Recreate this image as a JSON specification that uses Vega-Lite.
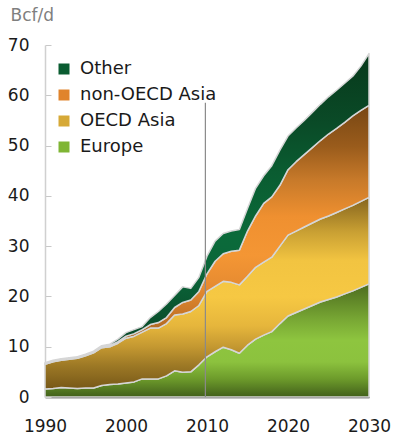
{
  "$schema": "https://vega.github.io/schema/vega-lite/v6.json",
  "width": 324,
  "height": 352,
  "autosize": {"type": "none"},
  "padding": {"left": 45, "top": 45, "right": 27, "bottom": 51},
  "background": "white",
  "config": {"view": {"stroke": null}, "font": "DejaVu Sans"},
  "data": {
    "values": [
      {"year": 1990, "Europe": 1.6, "OECDAsia": 4.9, "nonOECDAsia": 0.1, "Other": 0.2},
      {"year": 1991, "Europe": 1.7, "OECDAsia": 5.3, "nonOECDAsia": 0.1, "Other": 0.2},
      {"year": 1992, "Europe": 1.9, "OECDAsia": 5.4, "nonOECDAsia": 0.1, "Other": 0.2},
      {"year": 1993, "Europe": 1.8, "OECDAsia": 5.7, "nonOECDAsia": 0.1, "Other": 0.2},
      {"year": 1994, "Europe": 1.7, "OECDAsia": 6.0, "nonOECDAsia": 0.1, "Other": 0.2},
      {"year": 1995, "Europe": 1.8, "OECDAsia": 6.4, "nonOECDAsia": 0.1, "Other": 0.2},
      {"year": 1996, "Europe": 1.8, "OECDAsia": 7.0, "nonOECDAsia": 0.1, "Other": 0.2},
      {"year": 1997, "Europe": 2.3, "OECDAsia": 7.5, "nonOECDAsia": 0.1, "Other": 0.3},
      {"year": 1998, "Europe": 2.5, "OECDAsia": 7.5, "nonOECDAsia": 0.2, "Other": 0.3},
      {"year": 1999, "Europe": 2.6, "OECDAsia": 8.1, "nonOECDAsia": 0.3, "Other": 0.5},
      {"year": 2000, "Europe": 2.8, "OECDAsia": 8.9, "nonOECDAsia": 0.4, "Other": 0.7},
      {"year": 2001, "Europe": 3.0, "OECDAsia": 9.1, "nonOECDAsia": 0.5, "Other": 0.8},
      {"year": 2002, "Europe": 3.6, "OECDAsia": 9.3, "nonOECDAsia": 0.5, "Other": 0.6},
      {"year": 2003, "Europe": 3.6, "OECDAsia": 10.1, "nonOECDAsia": 0.7, "Other": 1.4},
      {"year": 2004, "Europe": 3.6, "OECDAsia": 10.1, "nonOECDAsia": 1.1, "Other": 2.2},
      {"year": 2005, "Europe": 4.2, "OECDAsia": 10.4, "nonOECDAsia": 1.2, "Other": 2.7},
      {"year": 2006, "Europe": 5.2, "OECDAsia": 11.1, "nonOECDAsia": 1.5, "Other": 2.4},
      {"year": 2007, "Europe": 4.9, "OECDAsia": 11.6, "nonOECDAsia": 2.3, "Other": 3.1},
      {"year": 2008, "Europe": 5.0, "OECDAsia": 12.0, "nonOECDAsia": 2.3, "Other": 2.3},
      {"year": 2009, "Europe": 6.4, "OECDAsia": 11.8, "nonOECDAsia": 2.8, "Other": 2.8},
      {"year": 2010, "Europe": 8.0, "OECDAsia": 13.0, "nonOECDAsia": 3.5, "Other": 3.5},
      {"year": 2011, "Europe": 9.0, "OECDAsia": 13.0, "nonOECDAsia": 5.0, "Other": 4.0},
      {"year": 2012, "Europe": 9.9, "OECDAsia": 13.1, "nonOECDAsia": 5.5, "Other": 4.0},
      {"year": 2013, "Europe": 9.4, "OECDAsia": 13.4, "nonOECDAsia": 6.2, "Other": 4.0},
      {"year": 2014, "Europe": 8.7, "OECDAsia": 13.6, "nonOECDAsia": 6.9, "Other": 4.1},
      {"year": 2015, "Europe": 10.3, "OECDAsia": 13.7, "nonOECDAsia": 9.0, "Other": 4.5},
      {"year": 2016, "Europe": 11.5, "OECDAsia": 14.3, "nonOECDAsia": 10.2, "Other": 5.5},
      {"year": 2017, "Europe": 12.3, "OECDAsia": 14.5, "nonOECDAsia": 11.7, "Other": 5.5},
      {"year": 2018, "Europe": 13.0, "OECDAsia": 14.8, "nonOECDAsia": 12.0, "Other": 6.2},
      {"year": 2019, "Europe": 14.6, "OECDAsia": 15.4, "nonOECDAsia": 12.1, "Other": 7.0},
      {"year": 2020, "Europe": 16.1, "OECDAsia": 16.1, "nonOECDAsia": 13.0, "Other": 6.7},
      {"year": 2021, "Europe": 16.8, "OECDAsia": 16.2, "nonOECDAsia": 13.8, "Other": 6.7},
      {"year": 2022, "Europe": 17.5, "OECDAsia": 16.3, "nonOECDAsia": 14.4, "Other": 6.8},
      {"year": 2023, "Europe": 18.2, "OECDAsia": 16.4, "nonOECDAsia": 15.0, "Other": 7.0},
      {"year": 2024, "Europe": 18.9, "OECDAsia": 16.5, "nonOECDAsia": 15.6, "Other": 7.2},
      {"year": 2025, "Europe": 19.4, "OECDAsia": 16.6, "nonOECDAsia": 16.3, "Other": 7.4},
      {"year": 2026, "Europe": 19.9, "OECDAsia": 16.8, "nonOECDAsia": 16.7, "Other": 7.6},
      {"year": 2027, "Europe": 20.5, "OECDAsia": 16.9, "nonOECDAsia": 17.2, "Other": 7.8},
      {"year": 2028, "Europe": 21.1, "OECDAsia": 17.0, "nonOECDAsia": 17.8, "Other": 7.9},
      {"year": 2029, "Europe": 21.8, "OECDAsia": 17.1, "nonOECDAsia": 18.1, "Other": 8.8},
      {"year": 2030, "Europe": 22.5, "OECDAsia": 17.2, "nonOECDAsia": 18.3, "Other": 10.3}
    ]
  },
  "encoding": {
    "x": {
      "field": "year",
      "type": "quantitative",
      "scale": {"domain": [1990, 2030], "nice": false, "zero": false},
      "axis": {
        "title": null,
        "values": [1990, 2000, 2010, 2020, 2030],
        "format": "d",
        "grid": false,
        "ticks": false,
        "domainColor": "#1a1a1a",
        "domainWidth": 1.5,
        "labelPadding": 21,
        "labelFont": "DejaVu Sans",
        "labelFontSize": 17,
        "labelColor": "#1a1a1a",
        "labelFlush": false
      }
    },
    "y": {
      "field": "y1",
      "type": "quantitative",
      "scale": {"domain": [0, 70], "nice": false},
      "axis": {
        "title": "Bcf/d",
        "titleAngle": 0,
        "titleAlign": "left",
        "titleBaseline": "top",
        "titleX": -35,
        "titleY": -38,
        "titleFont": "DejaVu Sans",
        "titleFontSize": 17,
        "titleFontWeight": "normal",
        "titleColor": "#7f7f7f",
        "values": [0, 10, 20, 30, 40, 50, 60, 70],
        "grid": false,
        "domainColor": "#d0d0d0",
        "domainWidth": 1.5,
        "tickColor": "#c8c8c8",
        "tickSize": -6,
        "tickWidth": 1,
        "labelPadding": 22,
        "labelFont": "DejaVu Sans",
        "labelFontSize": 17,
        "labelColor": "#1a1a1a"
      }
    },
    "y2": {"field": "y0"}
  },
  "layer": [
    {
      "transform": [
        {"fold": ["Europe", "OECDAsia", "nonOECDAsia", "Other"], "as": ["series", "value"]},
        {"stack": "value", "groupby": ["year"], "as": ["y0", "y1"]},
        {"filter": {"field": "series", "equal": "Europe"}}
      ],
      "mark": {
        "type": "area", "orient": "vertical", "stroke": "#d6d6d6", "strokeWidth": 1.5, "strokeJoin": "round",
        "fill": {"gradient": "linear", "x1": 0, "y1": 0, "x2": 0, "y2": 1, "stops": [
          {"offset": 0, "color": "#4c6b1e"},
          {"offset": 0.33, "color": "#7aaa35"},
          {"offset": 0.5, "color": "#8ec53f"},
          {"offset": 0.69, "color": "#8cc23e"},
          {"offset": 0.84, "color": "#6d9b2b"},
          {"offset": 1, "color": "#42601b"}
        ]}
      }
    },
    {
      "transform": [
        {"fold": ["Europe", "OECDAsia", "nonOECDAsia", "Other"], "as": ["series", "value"]},
        {"stack": "value", "groupby": ["year"], "as": ["y0", "y1"]},
        {"filter": {"field": "series", "equal": "OECDAsia"}}
      ],
      "mark": {
        "type": "area", "orient": "vertical", "stroke": "#d6d6d6", "strokeWidth": 1.5, "strokeJoin": "round",
        "fill": {"gradient": "linear", "x1": 0, "y1": 0, "x2": 0, "y2": 1, "stops": [
          {"offset": 0, "color": "#85641e"},
          {"offset": 0.18, "color": "#c9a033"},
          {"offset": 0.33, "color": "#f2c441"},
          {"offset": 0.52, "color": "#f6c843"},
          {"offset": 0.67, "color": "#e6b63c"},
          {"offset": 0.78, "color": "#c49831"},
          {"offset": 0.88, "color": "#9c7825"},
          {"offset": 1, "color": "#775818"}
        ]}
      }
    },
    {
      "transform": [
        {"fold": ["Europe", "OECDAsia", "nonOECDAsia", "Other"], "as": ["series", "value"]},
        {"stack": "value", "groupby": ["year"], "as": ["y0", "y1"]},
        {"filter": {"field": "series", "equal": "nonOECDAsia"}}
      ],
      "mark": {
        "type": "area", "orient": "vertical", "stroke": "#d6d6d6", "strokeWidth": 1.5, "strokeJoin": "round",
        "fill": {"gradient": "linear", "x1": 0, "y1": 0, "x2": 0, "y2": 1, "stops": [
          {"offset": 0, "color": "#774613"},
          {"offset": 0.16, "color": "#9a5c1c"},
          {"offset": 0.29, "color": "#c87a2a"},
          {"offset": 0.43, "color": "#ef9030"},
          {"offset": 0.58, "color": "#f49634"},
          {"offset": 0.7, "color": "#e68b31"},
          {"offset": 0.8, "color": "#c97728"},
          {"offset": 0.87, "color": "#b06823"},
          {"offset": 1, "color": "#8a5118"}
        ]}
      }
    },
    {
      "transform": [
        {"fold": ["Europe", "OECDAsia", "nonOECDAsia", "Other"], "as": ["series", "value"]},
        {"stack": "value", "groupby": ["year"], "as": ["y0", "y1"]},
        {"filter": {"field": "series", "equal": "Other"}}
      ],
      "mark": {
        "type": "area", "orient": "vertical", "stroke": "#d6d6d6", "strokeWidth": 1.5, "strokeJoin": "round",
        "fill": {"gradient": "linear", "x1": 0, "y1": 0, "x2": 0, "y2": 1, "stops": [
          {"offset": 0, "color": "#07391b"},
          {"offset": 0.22, "color": "#0a4a27"},
          {"offset": 0.38, "color": "#0a5c31"},
          {"offset": 0.59, "color": "#0b6a3a"},
          {"offset": 0.7, "color": "#0b663a"},
          {"offset": 0.82, "color": "#0a5530"},
          {"offset": 1, "color": "#0a4024"}
        ]}
      }
    },
    {
      "data": {"values": [{"year": 2009.8, "bottom": 0, "top": 58.5}]},
      "mark": {"type": "rule", "color": "#8a8a8a", "strokeWidth": 1.2},
      "encoding": {
        "x": {"field": "year", "type": "quantitative"},
        "y": {"field": "top", "type": "quantitative"},
        "y2": {"field": "bottom"}
      }
    },
    {
      "data": {"values": []},
      "mark": {"type": "square"},
      "encoding": {
        "color": {
          "field": "series",
          "type": "nominal",
          "scale": {
            "domain": ["Other", "non-OECD Asia", "OECD Asia", "Europe"],
            "range": ["#0a5c31", "#e0842c", "#d6a937", "#7fb534"]
          },
          "legend": {
            "title": null,
            "orient": "none",
            "legendX": 10,
            "legendY": 15,
            "padding": 0,
            "symbolType": "square",
            "symbolSize": 121,
            "symbolStrokeWidth": 0,
            "symbolOpacity": 1,
            "labelFont": "DejaVu Sans",
            "labelFontSize": 18,
            "labelColor": "#1a1a1a",
            "labelOffset": 7,
            "rowPadding": 8
          }
        }
      }
    }
  ]
}
